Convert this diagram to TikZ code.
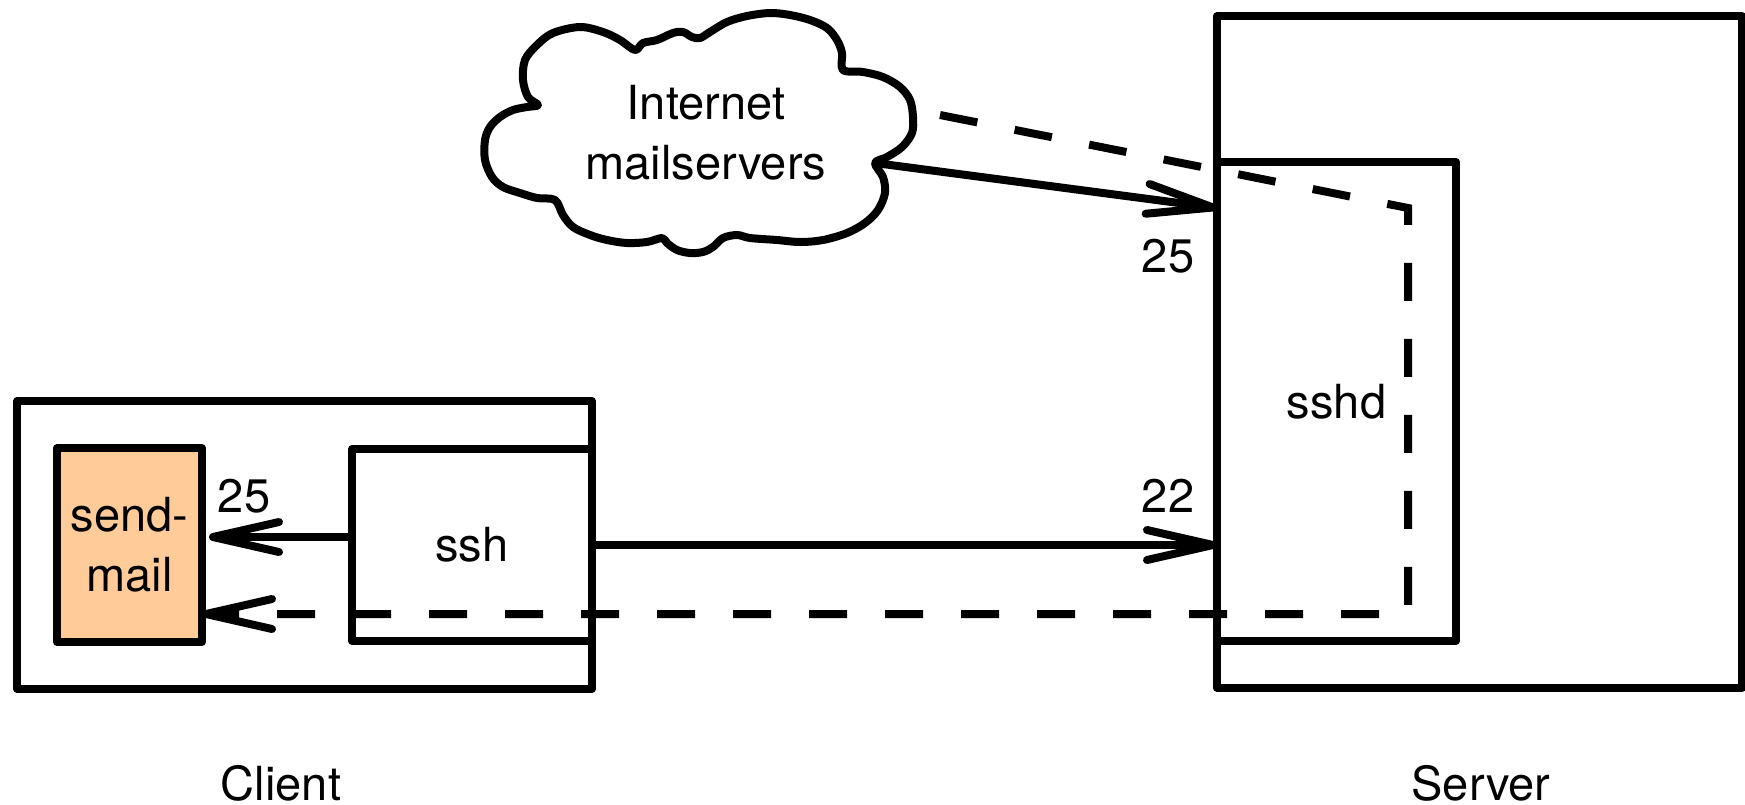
\documentclass[tikz,border=0pt]{standalone}
\usepackage{fontspec}
\setmainfont{TeX Gyre Heros}
\usetikzlibrary{arrows.meta}
\definecolor{smfill}{HTML}{FFCC99}
\begin{document}
\begin{tikzpicture}[x=1pt,y=-1pt,
  every node/.style={font=\fontsize{47}{60}\selectfont, inner sep=0pt, outer sep=0pt},
  box/.style={draw, rectangle, line width=8pt, line join=round, align=center},
  arr/.style={line width=8pt, -{Straight Barb[length=66pt,width=30pt,round]}},
  dsh/.style={line width=8pt, dash pattern=on 38pt off 38pt},
  cloudline/.style={line width=8pt, line join=round}]
\useasboundingbox (0,0) rectangle (1745,804);
% client side
\node[box, minimum width=575pt, minimum height=288pt] (client) at (304.5,545) {};
\node[box, fill=smfill, minimum width=145pt, minimum height=194pt] (sendmail) at (129.5,545) {send-\\mail};
\node[box, minimum width=240pt, minimum height=192pt] (ssh) at (472,545) {ssh};
% server side
\node[box, minimum width=525pt, minimum height=672pt] (server) at (1479.5,352) {};
\node[box, minimum width=239pt, minimum height=479pt] (sshd) at (1336.5,401.5) {sshd};
% cloud
\draw[cloudline] plot[smooth cycle, tension=0.55] coordinates {
 (538,105) (528,97) (523,80) (525,60) (537,45) (553,33) (580,27) (603,32) (620,40)
 (635,50) (643,43) (657,40) (673,33) (683,32) (692,37) (700,38) (710,32) (727,22)
 (747,16) (770,13) (790,15) (810,20) (827,28) (837,40) (842,53) (843,70) (863,72)
 (883,77) (900,87) (910,100) (913,117) (912,133) (902,147) (887,157) (875,163)
 (883,177) (885,193) (878,210) (865,223) (847,233) (823,240) (800,242) (777,240)
 (750,238) (737,235) (723,238) (713,247) (703,252) (690,253) (677,250) (667,243)
 (662,238) (647,242) (627,243) (607,240) (590,235) (573,227) (563,215) (555,200)
 (537,198) (520,193) (503,187) (492,177) (485,160) (485,140) (490,127) (500,117)
 (513,110) (527,107)};
\node[align=center] (inet) at (706,133) {Internet\\mailservers};
\coordinate (cR) at (875,163);
\coordinate (cD) at (940,115);
\coordinate (in25) at (1217,208);
\coordinate (dC1) at (1408,208);
\coordinate (dC2) at (1408,614);
% connectors
\draw[arr] (cR) -- (in25);
\draw[arr] (ssh.east) -- (ssh.east -| sshd.west);
\draw[arr, shorten >=7pt] ([yshift=8pt]ssh.west) -- ([yshift=8pt]sendmail.east);
\draw[dsh, arr] (cD) -- (dC1) -- (dC2) -- (sendmail.east |- dC2);
% labels
\node[anchor=base] (l25a) at (244,512) {25};
\node[anchor=base] (l25b) at (1168,272) {25};
\node[anchor=base] (l22) at (1168,512) {22};
\node[anchor=base] (lclient) at (281,800) {Client};
\node[anchor=base] (lserver) at (1481,800) {Server};
\end{tikzpicture}
\end{document}
